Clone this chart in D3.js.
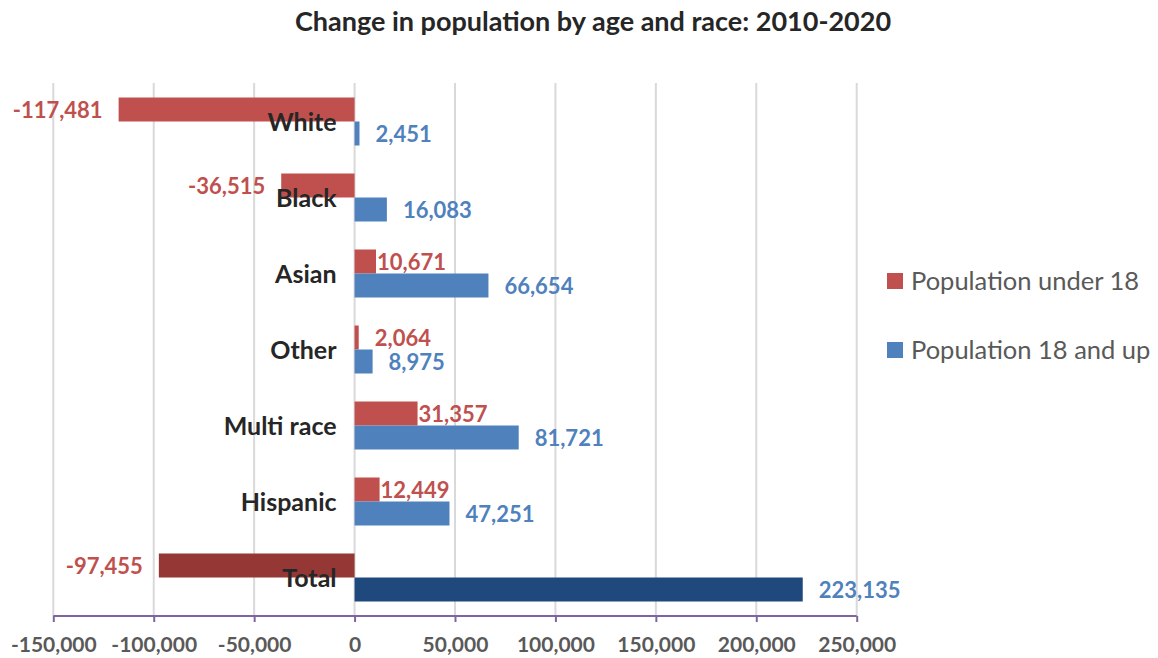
<!DOCTYPE html>
<html>
<head>
<meta charset="utf-8">
<script src="https://cdn.jsdelivr.net/npm/d3@7"></script>
<style>
  html, body { margin: 0; padding: 0; background: #ffffff; }
  svg { display: block; }
</style>
</head>
<body>
<script>
// ---- data ----
const categories = ["White", "Black", "Asian", "Other", "Multi race", "Hispanic", "Total"];
const seriesNames = ["Population under 18", "Population 18 and up"];
const under18 = [-117481, -36515, 10671, 2064, 31357, 12449, -97455];
const adults = [2451, 16083, 66654, 8975, 81721, 47251, 223135];
const tickValues = [-150000, -100000, -50000, 0, 50000, 100000, 150000, 200000, 250000];
const seriesColors = ["#C0504D", "#4F81BD"];
const totalColors = ["#953735", "#1F497D"];
const labelColors = ["#C0504D", "#4F81BD"];
const title = "Change in population by age and race: 2010-2020";

const W = 1158, H = 658;
const font = "Lato, 'Open Sans', sans-serif";
const fmt = d3.formatLocale({decimal: ".", thousands: ",", grouping: [3], currency: ["", ""], minus: "-"}).format(",");

const svg = d3.select("body").append("svg").attr("width", W).attr("height", H);

const x = d3.scaleLinear().domain([-150000, 250000]).range([53.3, 856.7]);
const y = d3.scaleBand().domain(categories).range([83.5, 615.5]).paddingInner(0.3684).paddingOuter(0.1842);
const ys = d3.scaleBand().domain(seriesNames).range([0, y.bandwidth()]);

// title
svg.append("text").attr("x", 593).attr("y", 31).attr("text-anchor", "middle")
  .attr("font-family", font).attr("font-weight", 700).attr("font-size", 27).attr("fill", "#262626")
  .text(title);

// gridlines
svg.append("g").selectAll("line").data(tickValues).join("line")
  .attr("x1", d => x(d)).attr("x2", d => x(d))
  .attr("y1", 83).attr("y2", 616)
  .attr("stroke", "#d9d9d9").attr("stroke-width", 2);

// bars
const rows = categories.map((c, i) => ({cat: c, vals: [under18[i], adults[i]], total: c === "Total"}));
const bars = [];
rows.forEach(r => r.vals.forEach((v, si) => bars.push({cat: r.cat, v, si, total: r.total})));

svg.append("g").selectAll("rect").data(bars).join("rect")
  .attr("x", d => x(Math.min(0, d.v)))
  .attr("width", d => Math.abs(x(d.v) - x(0)))
  .attr("y", d => y(d.cat) + ys(seriesNames[d.si]))
  .attr("height", ys.bandwidth())
  .attr("fill", d => d.total ? totalColors[d.si] : seriesColors[d.si]);

// x axis
const axis = d3.axisBottom(x).tickValues(tickValues).tickSize(6).tickFormat(fmt);
const ag = svg.append("g").attr("transform", "translate(0,616)").call(axis);
ag.select(".domain").attr("stroke", "#8064A2").attr("stroke-width", 2).attr("d", `M${x(-150000)},0H${x(250000)}`);
ag.selectAll(".tick line").attr("stroke", "#8064A2").attr("stroke-width", 2);
ag.selectAll(".tick text").attr("font-family", font).attr("font-weight", 700).attr("font-size", 21)
  .attr("fill", "#595959").attr("y", 21).attr("dy", "0.71em");

// category labels
svg.append("g").selectAll("text").data(categories).join("text")
  .attr("x", x(0) - 18).attr("y", d => y(d) + y.bandwidth() / 2).attr("dy", "0.36em")
  .attr("text-anchor", "end")
  .attr("font-family", font).attr("font-weight", 700).attr("font-size", 25).attr("fill", "#262626")
  .text(d => d);

// data labels
svg.append("g").selectAll("text").data(bars).join("text")
  .attr("x", d => {
    const gap = (d.si === 0 && d.v > 5000) ? 1 : 16;
    return d.v < 0 ? x(d.v) - gap : x(d.v) + gap;
  })
  .attr("y", d => y(d.cat) + ys(seriesNames[d.si]) + ys.bandwidth() / 2 + 1)
  .attr("dy", "0.36em")
  .attr("text-anchor", d => d.v < 0 ? "end" : "start")
  .attr("font-family", font).attr("font-weight", 700).attr("font-size", 22)
  .attr("fill", d => labelColors[d.si])
  .text(d => fmt(d.v));

// legend
const lg = svg.append("g").selectAll("g").data(seriesNames).join("g")
  .attr("transform", (d, i) => `translate(887,${281 + i * 69})`);
lg.append("rect").attr("x", 0).attr("y", -8).attr("width", 16).attr("height", 16)
  .attr("fill", (d, i) => seriesColors[i]);
lg.append("text").attr("x", 24).attr("y", 0).attr("dy", "0.36em")
  .attr("font-family", font).attr("font-size", 25.5).attr("fill", "#595959")
  .text(d => d);
</script>
</body>
</html>
